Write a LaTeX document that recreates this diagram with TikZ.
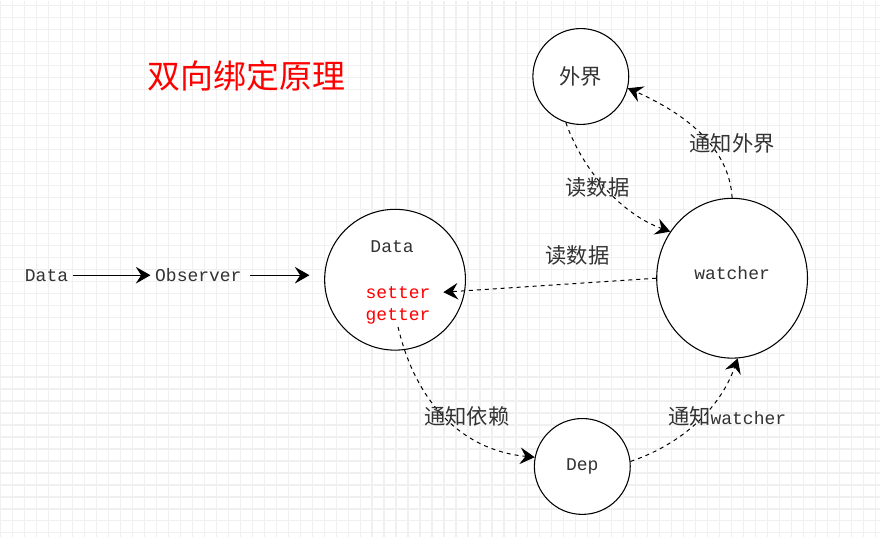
\documentclass[tikz,border=0pt]{standalone}
\usepackage{fontspec}
\setmonofont{Liberation Mono}
\newfontfamily\cjk{Noto Sans CJK SC}
\usepackage{tikz}
\usetikzlibrary{arrows.meta, positioning, shapes.geometric}
\definecolor{inkgray}{HTML}{333333}
\definecolor{gridgray}{HTML}{F0F0F0}
\definecolor{titlered}{HTML}{FF0000}
\tikzset{
    bubble/.style={draw, circle, line width=0.8pt, fill=white, inner sep=0pt,
        font=\ttfamily\fontsize{13.5pt}{16pt}\selectfont, text=inkgray},
    mono/.style={font=\ttfamily\fontsize{13.5pt}{16pt}\selectfont, text=inkgray},
    hint/.style={font=\cjk\fontsize{16pt}{19pt}\selectfont, text=inkgray},
    hook/.style={font=\ttfamily\fontsize{13.5pt}{16pt}\selectfont, text=titlered, inner sep=2pt},
    feed/.style={-{Stealth[length=11pt, width=12.5pt, inset=4pt]}, line width=0.8pt},
    flow/.style={feed, line width=0.75pt, dash pattern=on 3pt off 3pt},
}

\begin{document}
\begin{tikzpicture}[x=0.75pt, y=-0.75pt]
    % paper and grid
    \fill[white] (0,0) rectangle (881,537);
    \foreach \gx in {0,12,...,876}
        \draw[gridgray, line width=0.9pt] (\gx,0) -- (\gx,537);
    \foreach \gy in {5,17,...,533}
        \draw[gridgray, line width=0.9pt] (0,\gy) -- (881,\gy);
    \useasboundingbox (0,0) rectangle (881,537);

    \node[font=\cjk\fontsize{24.75pt}{30pt}\selectfont, text=titlered] (title) at (246,75) {双向绑定原理};

    \node[mono] (source) at (46,275) {Data};
    \node[mono] (observer) at (198,275) {Observer};

    \node[bubble, minimum size=105.75pt] (data) at (395,279.5) {};
    \node[mono] (datatext) at (392,246) {Data};
    \node[hook] (setter) at (398,292) {setter};
    \node[hook] (getter) at (398,316) {getter};

    \node[bubble, minimum size=72pt, font=\cjk\fontsize{16pt}{19pt}\selectfont] (world) at (581,76) {外界};
    \node[bubble, ellipse, minimum width=113.25pt, minimum height=120pt] (watcher) at (732.5,278) {\raisebox{7.5pt}{watcher}};
    \node[bubble, minimum size=72pt] (dep) at (582.5,466.5) {Dep};

    \draw[feed] (source) -- (observer);
    \draw[feed, shorten <=3pt, shorten >=11pt] (observer.east) -- (observer.east -| data.west);

    \draw[flow] (world.-108) .. controls (585,175) and (625,215) .. (watcher.143)
        node[hint, pos=0.45, xshift=-4pt, yshift=-2pt] {读数据};
    \draw[flow] (watcher.90) .. controls (730,150) and (690,115) .. (world.-14)
        node[hint, pos=0.4, xshift=15pt, yshift=2.5pt] {通知外界};
    \draw[flow] (watcher.west) -- ([xshift=7.5pt]setter.east)
        node[hint, pos=0.37, yshift=21pt] {读数据};
    \draw[flow] (getter.south) .. controls (415,400) and (460,450) .. (dep.169)
        node[hint, pos=0.5, xshift=16.5pt] {通知依赖};
    \draw[flow] (dep.6) .. controls (680,445) and (720,410) .. (watcher.-86)
        node[pos=0.5, xshift=23.5pt, yshift=5pt, text=inkgray] {{\cjk\fontsize{16pt}{19pt}\selectfont 通知}{\ttfamily\fontsize{13.5pt}{16pt}\selectfont watcher}};
\end{tikzpicture}
\end{document}
